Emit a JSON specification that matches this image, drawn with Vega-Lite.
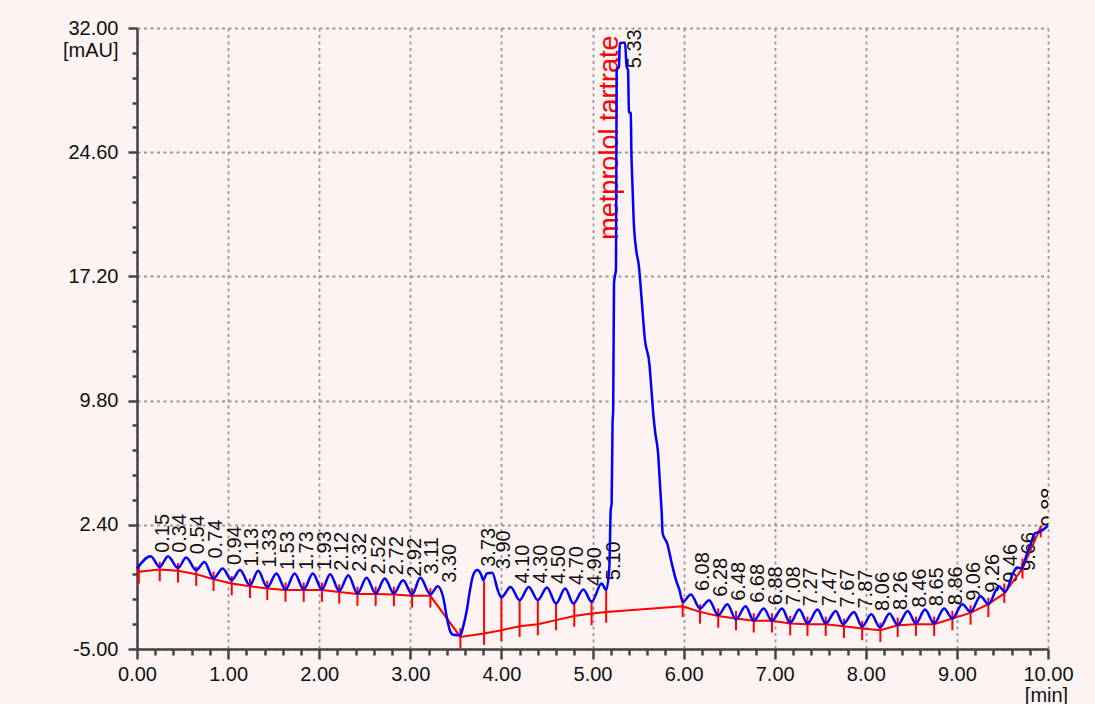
{
  "$schema": "https://vega.github.io/schema/vega-lite/v6.json",
  "width": 911,
  "height": 621,
  "autosize": "none",
  "padding": {"left": 137, "top": 28, "right": 47, "bottom": 55},
  "background": "#fdf3f2",
  "config": {
    "view": {"stroke": null},
    "font": "Liberation Sans",
    "axis": {
      "labelFont": "Liberation Sans", "labelFontSize": 20, "labelColor": "#111111",
      "titleFont": "Liberation Sans", "titleFontSize": 20, "titleFontWeight": "normal", "titleColor": "#111111",
      "domainColor": "#444444", "domainWidth": 2.5, "tickColor": "#444444", "tickWidth": 2.5,
      "gridColor": "#9a9a9a", "gridDash": [3, 3.5], "gridWidth": 1.8,
      "labelFlush": false, "labelOverlap": false, "labelBound": false
    }
  },
  "datasets": {
    "trace": [
      {"t":0.00,"v":-0.20},{"t":0.15,"v":0.53},{"t":0.25,"v":-0.11},{"t":0.34,"v":0.53},{"t":0.45,"v":-0.17},
      {"t":0.54,"v":0.45},{"t":0.65,"v":-0.30},{"t":0.74,"v":0.19},{"t":0.84,"v":-0.80},{"t":0.94,"v":-0.20},
      {"t":1.04,"v":-0.90},{"t":1.13,"v":-0.30},{"t":1.24,"v":-1.20},{"t":1.33,"v":-0.34},{"t":1.43,"v":-1.33},
      {"t":1.53,"v":-0.50},{"t":1.63,"v":-1.45},{"t":1.73,"v":-0.50},{"t":1.83,"v":-1.45},{"t":1.93,"v":-0.50},
      {"t":2.03,"v":-1.45},{"t":2.12,"v":-0.54},{"t":2.22,"v":-1.54},{"t":2.32,"v":-0.60},{"t":2.42,"v":-1.69},
      {"t":2.52,"v":-0.76},{"t":2.62,"v":-1.69},{"t":2.72,"v":-0.80},{"t":2.82,"v":-1.69},{"t":2.92,"v":-0.90},
      {"t":3.02,"v":-1.75},{"t":3.11,"v":-0.76},{"t":3.22,"v":-1.75},{"t":3.30,"v":-1.26},{"t":3.36,"v":-1.89},
      {"t":3.40,"v":-3.09},{"t":3.44,"v":-3.98},{"t":3.47,"v":-4.15},{"t":3.55,"v":-4.18},{"t":3.58,"v":-3.68},
      {"t":3.62,"v":-2.69},{"t":3.655,"v":-1.49},{"t":3.69,"v":-0.60},{"t":3.735,"v":-0.30},{"t":3.78,"v":-0.60},
      {"t":3.80,"v":-0.90},{"t":3.84,"v":-0.50},{"t":3.90,"v":-0.45},{"t":3.96,"v":-1.49},{"t":4.00,"v":-1.93},
      {"t":4.10,"v":-1.30},{"t":4.20,"v":-2.09},{"t":4.30,"v":-1.30},{"t":4.40,"v":-2.09},{"t":4.50,"v":-1.33},
      {"t":4.60,"v":-2.29},{"t":4.70,"v":-1.39},{"t":4.79,"v":-2.29},{"t":4.90,"v":-1.45},{"t":4.99,"v":-2.19},
      {"t":5.10,"v":-1.10},{"t":5.15,"v":-1.49},{"t":5.185,"v":-0.11},{"t":5.20,"v":3.27},{"t":5.21,"v":3.67},
      {"t":5.22,"v":8.44},{"t":5.227,"v":9.23},{"t":5.236,"v":16.78},{"t":5.258,"v":17.68},{"t":5.265,"v":29.5},
      {"t":5.29,"v":29.69},{"t":5.30,"v":31.09},{"t":5.33,"v":31.12},{"t":5.357,"v":31.12},{"t":5.375,"v":29.69},
      {"t":5.39,"v":29.5},{"t":5.40,"v":27.01},{"t":5.42,"v":26.92},{"t":5.427,"v":24.53},{"t":5.438,"v":22.74},
      {"t":5.452,"v":20.56},{"t":5.48,"v":18.77},{"t":5.51,"v":17.77},{"t":5.52,"v":17.18},{"t":5.54,"v":15.79},
      {"t":5.576,"v":13.4},{"t":5.624,"v":12.02},{"t":5.65,"v":10.23},{"t":5.67,"v":8.83},{"t":5.69,"v":7.84},
      {"t":5.72,"v":6.65},{"t":5.74,"v":4.86},{"t":5.76,"v":3.08},{"t":5.77,"v":1.88},{"t":5.82,"v":1.29},
      {"t":5.87,"v":0.10},{"t":5.917,"v":-0.90},{"t":5.955,"v":-1.49},{"t":5.99,"v":-2.19},{"t":6.08,"v":-1.75},
      {"t":6.18,"v":-2.59},{"t":6.28,"v":-2.09},{"t":6.38,"v":-2.99},{"t":6.48,"v":-2.33},{"t":6.575,"v":-3.24},
      {"t":6.68,"v":-2.45},{"t":6.77,"v":-3.32},{"t":6.88,"v":-2.59},{"t":6.97,"v":-3.32},{"t":7.08,"v":-2.59},
      {"t":7.17,"v":-3.44},{"t":7.27,"v":-2.65},{"t":7.36,"v":-3.48},{"t":7.47,"v":-2.65},{"t":7.56,"v":-3.48},
      {"t":7.67,"v":-2.73},{"t":7.75,"v":-3.52},{"t":7.87,"v":-2.79},{"t":7.96,"v":-3.68},{"t":8.06,"v":-2.93},
      {"t":8.157,"v":-3.72},{"t":8.26,"v":-2.88},{"t":8.35,"v":-3.58},{"t":8.46,"v":-2.73},{"t":8.55,"v":-3.48},
      {"t":8.65,"v":-2.65},{"t":8.75,"v":-3.48},{"t":8.86,"v":-2.59},{"t":8.95,"v":-3.18},{"t":9.06,"v":-2.33},
      {"t":9.15,"v":-2.79},{"t":9.26,"v":-1.85},{"t":9.345,"v":-2.33},{"t":9.46,"v":-1.26},{"t":9.528,"v":-1.60},
      {"t":9.62,"v":-0.45},{"t":9.66,"v":-0.15},{"t":9.71,"v":-0.20},{"t":9.77,"v":0.69},{"t":9.80,"v":1.09},
      {"t":9.855,"v":1.88},{"t":9.91,"v":1.98},{"t":9.985,"v":2.28},{"t":10.0,"v":2.35}
    ],
    "baseline": [
      {"t":0.00,"v":-0.40},{"t":0.02,"v":-0.40},{"t":0.25,"v":-0.26},{"t":0.45,"v":-0.34},{"t":0.65,"v":-0.54},
      {"t":0.84,"v":-0.84},{"t":1.04,"v":-1.10},{"t":1.24,"v":-1.26},{"t":1.43,"v":-1.39},{"t":1.63,"v":-1.49},
      {"t":1.83,"v":-1.49},{"t":2.03,"v":-1.49},{"t":2.22,"v":-1.60},{"t":2.42,"v":-1.73},{"t":2.62,"v":-1.73},
      {"t":2.82,"v":-1.75},{"t":3.02,"v":-1.83},{"t":3.22,"v":-1.83},{"t":3.55,"v":-4.28},{"t":3.81,"v":-4.08},
      {"t":4.00,"v":-3.88},{"t":4.20,"v":-3.64},{"t":4.40,"v":-3.52},{"t":4.60,"v":-3.28},{"t":4.80,"v":-3.03},
      {"t":4.99,"v":-2.88},{"t":5.15,"v":-2.79},{"t":5.99,"v":-2.45},{"t":6.18,"v":-2.79},{"t":6.38,"v":-3.03},
      {"t":6.575,"v":-3.18},{"t":6.77,"v":-3.32},{"t":6.97,"v":-3.32},{"t":7.17,"v":-3.48},{"t":7.36,"v":-3.52},
      {"t":7.56,"v":-3.52},{"t":7.76,"v":-3.64},{"t":7.96,"v":-3.78},{"t":8.16,"v":-3.88},{"t":8.35,"v":-3.58},
      {"t":8.55,"v":-3.52},{"t":8.75,"v":-3.52},{"t":8.95,"v":-3.18},{"t":9.15,"v":-2.85},{"t":9.345,"v":-2.33},
      {"t":9.52,"v":-1.69},{"t":9.72,"v":-0.20},{"t":9.92,"v":2.28}
    ],
    "drops": [
      {"t":0.02,"v":0.05,"v2":-1.10},{"t":0.25,"v":0.19,"v2":-0.96},{"t":0.45,"v":0.11,"v2":-1.04},
      {"t":0.65,"v":-0.09,"v2":-1.24},{"t":0.84,"v":-0.39,"v2":-1.54},{"t":1.04,"v":-0.65,"v2":-1.80},
      {"t":1.24,"v":-0.81,"v2":-1.96},{"t":1.43,"v":-0.94,"v2":-2.09},{"t":1.63,"v":-1.04,"v2":-2.19},
      {"t":1.83,"v":-1.04,"v2":-2.19},{"t":2.03,"v":-1.04,"v2":-2.19},{"t":2.22,"v":-1.15,"v2":-2.30},
      {"t":2.42,"v":-1.28,"v2":-2.43},{"t":2.62,"v":-1.28,"v2":-2.43},{"t":2.82,"v":-1.30,"v2":-2.45},
      {"t":3.02,"v":-1.38,"v2":-2.53},{"t":3.22,"v":-1.38,"v2":-2.53},{"t":3.55,"v":-3.76,"v2":-4.95},
      {"t":3.81,"v":-0.96,"v2":-4.77},{"t":4.00,"v":-1.89,"v2":-4.52},{"t":4.20,"v":-2.05,"v2":-4.28},
      {"t":4.40,"v":-2.09,"v2":-4.18},{"t":4.60,"v":-2.29,"v2":-3.88},{"t":4.80,"v":-2.29,"v2":-3.68},
      {"t":4.99,"v":-2.09,"v2":-3.58},{"t":5.15,"v":-1.54,"v2":-3.44},{"t":5.99,"v":-1.95,"v2":-3.09},
      {"t":6.18,"v":-2.34,"v2":-3.49},{"t":6.38,"v":-2.58,"v2":-3.73},{"t":6.575,"v":-2.73,"v2":-3.88},
      {"t":6.77,"v":-2.87,"v2":-4.02},{"t":6.97,"v":-2.87,"v2":-4.02},{"t":7.17,"v":-3.03,"v2":-4.18},
      {"t":7.36,"v":-3.07,"v2":-4.22},{"t":7.56,"v":-3.07,"v2":-4.22},{"t":7.76,"v":-3.19,"v2":-4.34},
      {"t":7.96,"v":-3.33,"v2":-4.48},{"t":8.16,"v":-3.43,"v2":-4.58},{"t":8.35,"v":-3.13,"v2":-4.28},
      {"t":8.55,"v":-3.07,"v2":-4.22},{"t":8.75,"v":-3.07,"v2":-4.22},{"t":8.95,"v":-2.73,"v2":-3.88},
      {"t":9.15,"v":-2.40,"v2":-3.55},{"t":9.345,"v":-1.95,"v2":-3.10},{"t":9.52,"v":-1.10,"v2":-2.25},
      {"t":9.72,"v":0.40,"v2":-0.80},{"t":9.92,"v":2.35,"v2":1.66}
    ],
    "peaks": [
      {"t":0.15,"v":0.73,"label":"0.15"},{"t":0.34,"v":0.73,"label":"0.34"},{"t":0.54,"v":0.65,"label":"0.54"},
      {"t":0.74,"v":0.39,"label":"0.74"},{"t":0.94,"v":0.0,"label":"0.94"},{"t":1.13,"v":-0.10,"label":"1.13"},
      {"t":1.33,"v":-0.14,"label":"1.33"},{"t":1.53,"v":-0.30,"label":"1.53"},{"t":1.73,"v":-0.30,"label":"1.73"},
      {"t":1.93,"v":-0.30,"label":"1.93"},{"t":2.12,"v":-0.34,"label":"2.12"},{"t":2.32,"v":-0.40,"label":"2.32"},
      {"t":2.52,"v":-0.56,"label":"2.52"},{"t":2.72,"v":-0.60,"label":"2.72"},{"t":2.92,"v":-0.70,"label":"2.92"},
      {"t":3.11,"v":-0.56,"label":"3.11"},{"t":3.30,"v":-1.06,"label":"3.30"},{"t":3.73,"v":-0.10,"label":"3.73"},
      {"t":3.90,"v":-0.25,"label":"3.90"},{"t":4.10,"v":-1.10,"label":"4.10"},{"t":4.30,"v":-1.10,"label":"4.30"},
      {"t":4.50,"v":-1.13,"label":"4.50"},{"t":4.70,"v":-1.19,"label":"4.70"},{"t":4.90,"v":-1.25,"label":"4.90"},
      {"t":5.10,"v":-0.90,"label":"5.10"},{"t":5.33,"v":29.6,"label":"5.33"},{"t":6.08,"v":-1.55,"label":"6.08"},
      {"t":6.28,"v":-1.89,"label":"6.28"},{"t":6.48,"v":-2.13,"label":"6.48"},{"t":6.68,"v":-2.25,"label":"6.68"},
      {"t":6.88,"v":-2.39,"label":"6.88"},{"t":7.08,"v":-2.39,"label":"7.08"},{"t":7.27,"v":-2.45,"label":"7.27"},
      {"t":7.47,"v":-2.45,"label":"7.47"},{"t":7.67,"v":-2.53,"label":"7.67"},{"t":7.87,"v":-2.59,"label":"7.87"},
      {"t":8.06,"v":-2.73,"label":"8.06"},{"t":8.26,"v":-2.68,"label":"8.26"},{"t":8.46,"v":-2.53,"label":"8.46"},
      {"t":8.65,"v":-2.45,"label":"8.65"},{"t":8.86,"v":-2.39,"label":"8.86"},{"t":9.06,"v":-2.13,"label":"9.06"},
      {"t":9.26,"v":-1.65,"label":"9.26"},{"t":9.46,"v":-1.06,"label":"9.46"},{"t":9.66,"v":-0.35,"label":"9.66"},
      {"t":9.88,"v":2.30,"label":"9.88"}
    ],
    "names": [
      {"t":5.33,"v":25.47,"name":"metprolol tartrate"}
    ]
  },
  "layer": [
    {
      "data": {"name": "peaks"},
      "mark": {"type": "text", "angle": 270, "align": "left", "baseline": "middle", "dy": 12, "fontSize": 20, "font": "Liberation Sans", "color": "#111111", "clip": true},
      "encoding": {
        "x": {
          "field": "t", "type": "quantitative",
          "scale": {"domain": [0, 10], "nice": false, "zero": false},
          "axis": {
            "values": [0,0.2,0.4,0.6,0.8,1,1.2,1.4,1.6,1.8,2,2.2,2.4,2.6,2.8,3,3.2,3.4,3.6,3.8,4,4.2,4.4,4.6,4.8,5,5.2,5.4,5.6,5.8,6,6.2,6.4,6.6,6.8,7,7.2,7.4,7.6,7.8,8,8.2,8.4,8.6,8.8,9,9.2,9.4,9.6,9.8,10],
            "tickCount": 200,
            "labelExpr": "abs(datum.value - round(datum.value)) < 0.01 ? format(datum.value, '.2f') : ''",
            "tickSize": {"condition": {"test": "abs(datum.value - round(datum.value)) < 0.01", "value": 10}, "value": 6},
            "gridOpacity": {"condition": {"test": "abs(datum.value - round(datum.value)) < 0.01", "value": 1}, "value": 0},
            "grid": true,
            "labelPadding": 5,
            "title": "[min]", "titleX": 909, "titleY": 36, "titleAlign": "center", "titleBaseline": "top", "titleAnchor": null
          }
        },
        "y": {
          "field": "v", "type": "quantitative",
          "scale": {"domain": [-5, 32], "nice": false, "zero": false},
          "axis": {
            "values": [-5,-3.52,-2.04,-0.56,0.92,2.4,3.88,5.36,6.84,8.32,9.8,11.28,12.76,14.24,15.72,17.2,18.68,20.16,21.64,23.12,24.6,26.08,27.56,29.04,30.52,32],
            "tickCount": 200,
            "labelExpr": "abs((datum.value + 5) / 7.4 - round((datum.value + 5) / 7.4)) < 0.01 ? replace(format(datum.value, '.2f'), '\u2212', '-') : ''",
            "tickSize": {"condition": {"test": "abs((datum.value + 5) / 7.4 - round((datum.value + 5) / 7.4)) < 0.01", "value": 9}, "value": 5},
            "gridOpacity": {"condition": {"test": "abs((datum.value + 5) / 7.4 - round((datum.value + 5) / 7.4)) < 0.01", "value": 1}, "value": 0},
            "grid": true,
            "labelPadding": 10,
            "title": "[mAU]", "titleAngle": 0, "titleX": -19, "titleY": 22, "titleAlign": "right", "titleBaseline": "middle", "titleAnchor": null
          }
        },
        "text": {"field": "label"}
      }
    },
    {
      "data": {"name": "names"},
      "mark": {"type": "text", "angle": 270, "align": "center", "baseline": "middle", "dy": -13, "fontSize": 27, "font": "Liberation Sans", "color": "#ff0000"},
      "encoding": {
        "x": {"field": "t", "type": "quantitative"},
        "y": {"field": "v", "type": "quantitative"},
        "text": {"field": "name"}
      }
    },
    {
      "data": {"name": "baseline"},
      "mark": {"type": "line", "color": "#ff0000", "strokeWidth": 2},
      "encoding": {
        "x": {"field": "t", "type": "quantitative"},
        "y": {"field": "v", "type": "quantitative"}
      }
    },
    {
      "data": {"name": "drops"},
      "mark": {"type": "rule", "color": "#ff0000", "strokeWidth": 2},
      "encoding": {
        "x": {"field": "t", "type": "quantitative"},
        "y": {"field": "v", "type": "quantitative"},
        "y2": {"field": "v2"}
      }
    },
    {
      "data": {"name": "trace"},
      "mark": {"type": "line", "color": "#0000ff", "strokeWidth": 2.5, "interpolate": "monotone"},
      "encoding": {
        "x": {"field": "t", "type": "quantitative"},
        "y": {"field": "v", "type": "quantitative"}
      }
    }
  ]
}
